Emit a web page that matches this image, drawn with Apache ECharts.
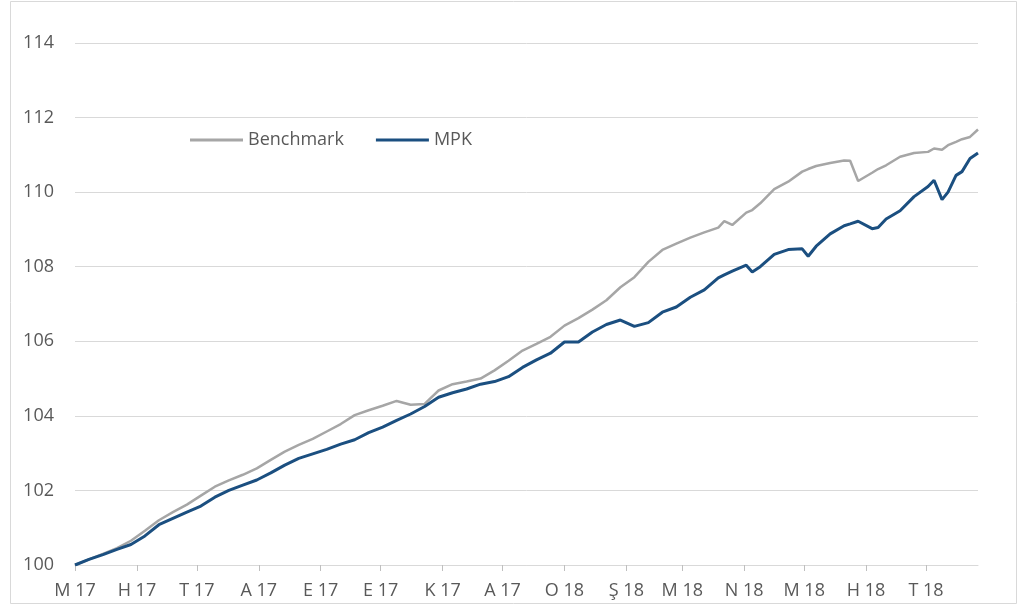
<!DOCTYPE html>
<html>
<head>
<meta charset="utf-8">
<script src="https://cdn.jsdelivr.net/npm/echarts@6/dist/echarts.min.js"></script>
<style>
html,body{margin:0;padding:0;background:#fff;}
#chart{width:1035px;height:610px;}
</style>
</head>
<body>
<div id="chart"></div>
<script>
// Dates of observations (weekly readings, plus a few extra around visible moves)
var dates = [
'2017-05-01','2017-05-08','2017-05-15','2017-05-22','2017-05-29','2017-06-05','2017-06-12','2017-06-19','2017-06-26',
'2017-07-03','2017-07-10','2017-07-17','2017-07-24','2017-07-31','2017-08-07','2017-08-14','2017-08-21','2017-08-28',
'2017-09-04','2017-09-11','2017-09-18','2017-09-25','2017-10-02','2017-10-09','2017-10-16','2017-10-23','2017-10-30',
'2017-11-06','2017-11-13','2017-11-20','2017-11-27','2017-12-04','2017-12-11','2017-12-18','2017-12-25',
'2018-01-01','2018-01-08','2018-01-15','2018-01-22','2018-01-29','2018-02-05','2018-02-12','2018-02-19','2018-02-26',
'2018-03-05','2018-03-12','2018-03-19','2018-03-22','2018-03-26','2018-04-02','2018-04-05','2018-04-09','2018-04-16','2018-04-23','2018-04-30',
'2018-05-03','2018-05-07','2018-05-14','2018-05-21','2018-05-24','2018-05-28','2018-06-04','2018-06-07','2018-06-11','2018-06-18','2018-06-25',
'2018-07-02','2018-07-05','2018-07-09','2018-07-12','2018-07-16','2018-07-19','2018-07-23','2018-07-27'
];
var benchmark = [
100.00,100.15,100.30,100.45,100.65,100.92,101.20,101.42,101.62,
101.86,102.10,102.27,102.42,102.59,102.82,103.04,103.22,103.38,
103.58,103.78,104.02,104.15,104.27,104.40,104.30,104.32,104.68,
104.85,104.92,105.00,105.22,105.48,105.75,105.93,106.12,
106.42,106.62,106.85,107.10,107.45,107.72,108.13,108.45,108.62,
108.78,108.92,109.05,109.22,109.12,109.45,109.52,109.70,110.08,110.28,110.55,
110.62,110.70,110.78,110.85,110.84,110.30,110.52,110.62,110.72,110.95,111.05,
111.08,111.17,111.14,111.26,111.35,111.42,111.48,111.68
];
var mpk = [
100.00,100.15,100.28,100.42,100.55,100.78,101.08,101.25,101.42,
101.58,101.82,102.00,102.14,102.28,102.47,102.68,102.86,102.98,
103.10,103.24,103.36,103.55,103.70,103.88,104.05,104.25,104.50,
104.62,104.72,104.85,104.92,105.05,105.30,105.50,105.68,
105.98,105.98,106.25,106.45,106.57,106.40,106.50,106.78,106.92,
107.18,107.38,107.70,107.78,107.88,108.04,107.86,108.00,108.33,108.46,108.48,
108.28,108.55,108.88,109.10,109.15,109.22,109.02,109.05,109.28,109.50,109.88,
110.15,110.32,109.80,110.00,110.45,110.55,110.90,111.05
];
var tickDates = ['2017-05-01','2017-06-01','2017-07-01','2017-08-01','2017-09-01','2017-10-01','2017-11-01','2017-12-01',
'2018-01-01','2018-02-01','2018-03-01','2018-04-01','2018-05-01','2018-06-01','2018-07-01'];
var tickLabels = ['M 17','H 17','T 17','A 17','E 17','E 17','K 17','A 17','O 18','Ş 18','M 18','N 18','M 18','H 18','T 18'];
var yTicks = [100,102,104,106,108,110,112,114];
var seriesNames = ['Benchmark','MPK'];

function ts(s){ var p = s.split('-'); return Date.UTC(+p[0], +p[1]-1, +p[2]); }
var tickTs = tickDates.map(ts);
function pairs(vals){ return dates.map(function(d,i){ return [ts(d), vals[i]]; }); }

var chart = echarts.init(document.getElementById('chart'), null, {renderer:'canvas'});
var FONT = '"Open Sans", "Liberation Sans", sans-serif';
var TXT = '#595959';
chart.setOption({
  animation:false,
  backgroundColor:'#ffffff',
  grid:{left:75, right:57, top:43, bottom:45, containLabel:false},
  graphic:[{type:'rect', shape:{x:10.5, y:1.5, width:1006, height:602}, style:{fill:'none', stroke:'#d9d9d9', lineWidth:1}, silent:true}],
  legend:{
    left:190, top:131, padding:0, icon:'rect', itemWidth:53, itemHeight:3, itemGap:32,
    textStyle:{color:TXT, fontSize:18, fontFamily:FONT},
    data:seriesNames
  },
  xAxis:{
    type:'value',
    min:ts('2017-05-01'), max:ts('2018-07-27'),
    axisLine:{show:true, lineStyle:{color:'#d9d9d9', width:1}},
    axisTick:{show:true, length:6, lineStyle:{color:'#bfbfbf'}, customValues:tickTs},
    axisLabel:{
      customValues:tickTs, color:TXT, fontSize:18, fontFamily:FONT, margin:17,
      formatter:function(v){ var i = tickTs.indexOf(v); return i>=0 ? tickLabels[i] : ''; }
    },
    splitLine:{show:false}
  },
  yAxis:{
    type:'value', min:yTicks[0], max:yTicks[yTicks.length-1], interval:2,
    axisLine:{show:false}, axisTick:{show:false},
    axisLabel:{color:TXT, fontSize:18, fontFamily:FONT, margin:21},
    splitLine:{lineStyle:{color:'#d9d9d9', width:1}}
  },
  series:[
    {name:seriesNames[0], type:'line', data:pairs(benchmark), symbol:'none', showSymbol:false,
     lineStyle:{color:'#a6a6a6', width:2.5}, itemStyle:{color:'#a6a6a6'}, z:2},
    {name:seriesNames[1], type:'line', data:pairs(mpk), symbol:'none', showSymbol:false,
     lineStyle:{color:'#1b4f80', width:3}, itemStyle:{color:'#1b4f80'}, z:3}
  ]
});
</script>
</body>
</html>
